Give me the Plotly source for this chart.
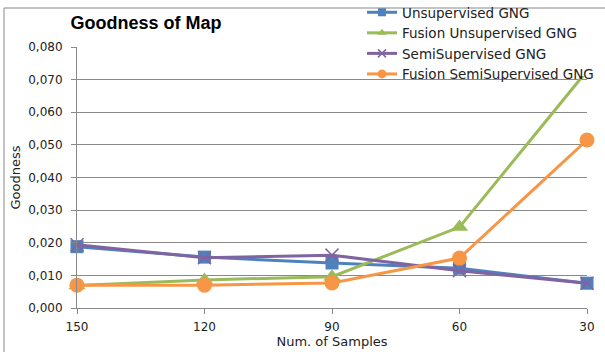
import plotly.graph_objects as go

# Sample counts on the category axis
samples = ["150", "120", "90", "60", "30"]

# Goodness values per method
unsupervised = [0.0188, 0.0156, 0.0138, 0.0122, 0.0076]
fusion_unsupervised = [0.0069, 0.0086, 0.0096, 0.0248, 0.0727]
semisupervised = [0.0194, 0.0154, 0.0162, 0.0114, 0.0076]
fusion_semisupervised = [0.0070, 0.0070, 0.0077, 0.0153, 0.0515]

y_ticks = [0.0, 0.01, 0.02, 0.03, 0.04, 0.05, 0.06, 0.07, 0.08]

x_pos = list(range(len(samples)))

series = [
    ("Unsupervised GNG", unsupervised, "#4F81BD", "square", 13, 8),
    ("Fusion Unsupervised GNG", fusion_unsupervised, "#9BBB59", "triangle-up", 15, 8),
    ("SemiSupervised GNG", semisupervised, "#8064A2", "x-thin-open", 13, 8),
    ("Fusion SemiSupervised GNG", fusion_semisupervised, "#F79646", "circle", 15, 9),
]

def make_marker(symbol, size, color):
    m = dict(symbol=symbol, size=size, color=color)
    if symbol == "x-thin-open":
        m["line"] = dict(color=color, width=1.5)
    return m

fig = go.Figure()
for name, vals, color, symbol, size, _ in series:
    fig.add_trace(go.Scatter(
        x=x_pos, y=vals, name=name, mode="lines+markers",
        line=dict(color=color, width=3),
        marker=make_marker(symbol, size, color),
        showlegend=False, cliponaxis=False,
    ))
# Legend entries with smaller symbols
for name, vals, color, symbol, _, lsize in series:
    fig.add_trace(go.Scatter(
        x=[None], y=[None], name=name, mode="lines+markers",
        line=dict(color=color, width=3),
        marker=make_marker(symbol, lsize, color),
        showlegend=True,
    ))

W, H = 605, 352
L, R, T, B = 77, 18, 47, 44
pw, ph = W - L - R, H - T - B

def px_x(px):
    return (px - L) / pw

def px_y(py):
    return (H - B - py) / ph

fig.update_layout(
    width=W, height=H,
    margin=dict(l=L, r=R, t=T, b=B, autoexpand=False),
    paper_bgcolor="white", plot_bgcolor="white",
    separators=",.",
    font=dict(family="DejaVu Sans", size=12, color="#222"),
    title=dict(
        text="<b>Goodness of Map</b>",
        font=dict(family="Liberation Sans", size=18, color="#000"),
        x=px_x(146), xref="paper", xanchor="center",
        y=1 - 23 / H, yref="container", yanchor="middle",
    ),
    showlegend=True,
    legend=dict(
        x=px_x(362), y=px_y(-3), xref="paper", yref="paper",
        xanchor="left", yanchor="top",
        bgcolor="rgba(0,0,0,0)", borderwidth=0,
        font=dict(family="DejaVu Sans", size=13.5, color="#222"),
        tracegroupgap=0,
    ),
    xaxis=dict(
        range=[0, len(samples) - 1],
        tickmode="array", tickvals=x_pos, ticktext=samples,
        showgrid=False, zeroline=False,
        showline=True, linecolor="#888", linewidth=1,
        ticks="outside", ticklen=5, tickcolor="#888",
        ticklabelstandoff=3, automargin=False,
        tickfont=dict(family="DejaVu Sans", size=12, color="#222"),
        title=dict(text="Num. of Samples", standoff=3,
                   font=dict(family="DejaVu Sans", size=13, color="#222")),
    ),
    yaxis=dict(
        range=[0, 0.08],
        tickmode="array", tickvals=y_ticks, tickformat=".3f",
        showgrid=True, gridcolor="#888", gridwidth=1,
        zeroline=False,
        showline=True, linecolor="#888", linewidth=1,
        ticks="outside", ticklen=5, tickcolor="#888",
        ticklabelstandoff=6, automargin=False,
        tickfont=dict(family="DejaVu Sans", size=12, color="#222"),
        title=dict(text="Goodness", standoff=4,
                   font=dict(family="DejaVu Sans", size=13, color="#222")),
    ),
    shapes=[
        # outer chart border
        dict(
            type="rect", xref="paper", yref="paper",
            x0=px_x(4), x1=px_x(W + 2), y0=px_y(H + 2), y1=px_y(8),
            line=dict(color="#888", width=1), fillcolor="rgba(0,0,0,0)",
            layer="below",
        ),
        # opaque legend box, drawn over the data
        dict(
            type="rect", xref="paper", yref="paper",
            x0=px_x(363), x1=px_x(W - 1), y0=px_y(76), y1=px_y(9),
            line=dict(width=0), fillcolor="white",
            layer="above",
        ),
    ],
)

fig.write_html("out.html")
